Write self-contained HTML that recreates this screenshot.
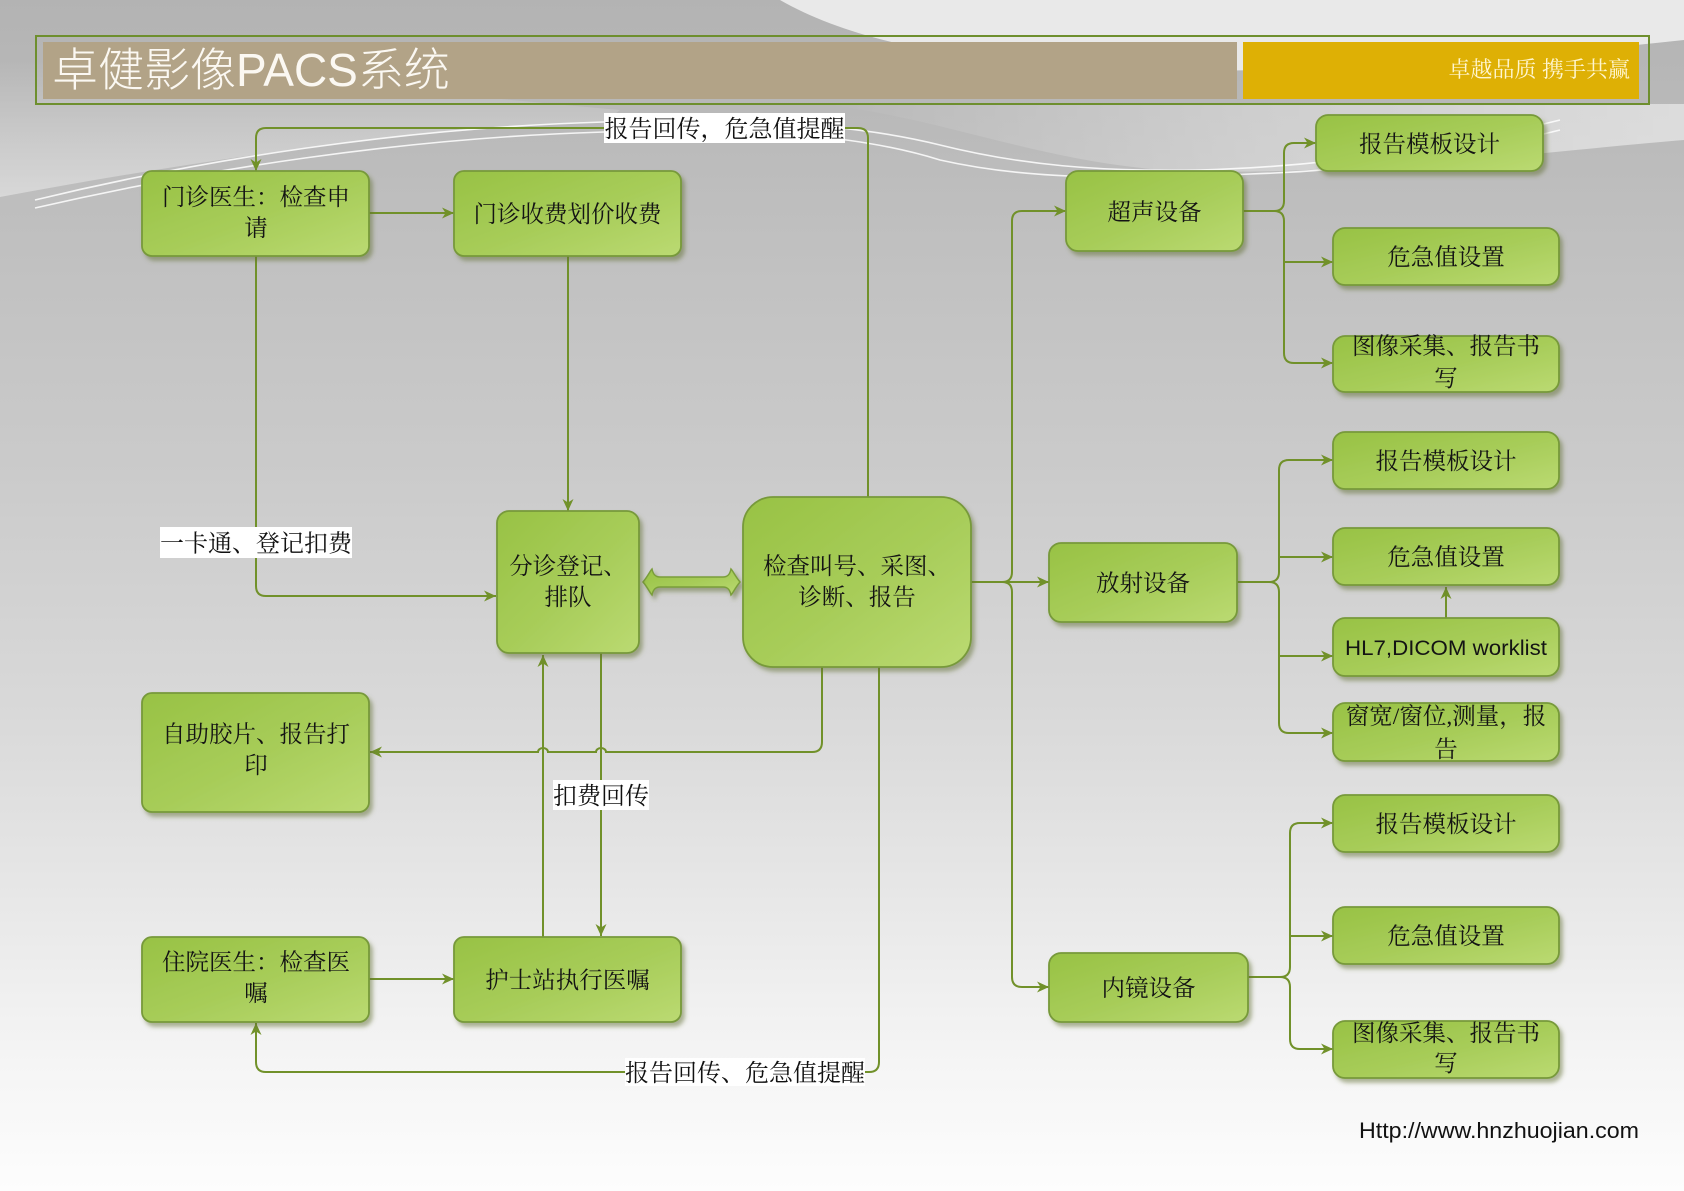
<!DOCTYPE html>
<html>
<head>
<meta charset="utf-8">
<style>
  html,body{margin:0;padding:0;width:1684px;height:1191px;overflow:hidden;background:#d0d0d0;}
  svg{display:block;}
  .t{font-family:"Liberation Serif","Noto Serif CJK SC","Noto Serif CJK JP","Noto Sans CJK SC",serif;font-size:23.5px;fill:#141414;text-anchor:middle;}
  .lb{font-family:"Liberation Serif","Noto Serif CJK SC","Noto Serif CJK JP","Noto Sans CJK SC",serif;font-size:24px;fill:#111;text-anchor:middle;}
  .c{fill:none;stroke:#71912a;stroke-width:2;}
  .bx{fill:url(#gb);stroke:#77993a;stroke-width:1.8;filter:url(#sh);}
</style>
</head>
<body>
<svg width="1684" height="1191" viewBox="0 0 1684 1191" xmlns="http://www.w3.org/2000/svg">
  <defs>
    <linearGradient id="bg" x1="0" y1="0" x2="0" y2="1">
      <stop offset="0" stop-color="#b3b3b3"/>
      <stop offset="0.17" stop-color="#bebebe"/>
      <stop offset="0.4" stop-color="#cbcbcb"/>
      <stop offset="0.6" stop-color="#d9d9d9"/>
      <stop offset="0.75" stop-color="#e7e7e7"/>
      <stop offset="0.88" stop-color="#f4f4f4"/>
      <stop offset="1" stop-color="#fdfdfd"/>
    </linearGradient>
    <linearGradient id="gb" x1="0" y1="0" x2="1" y2="1">
      <stop offset="0" stop-color="#98c244"/>
      <stop offset="0.55" stop-color="#a8cd5a"/>
      <stop offset="1" stop-color="#bbda72"/>
    </linearGradient>
    <linearGradient id="wedge" x1="0" y1="0" x2="0" y2="1">
      <stop offset="0" stop-color="#ffffff" stop-opacity="0"/>
      <stop offset="1" stop-color="#ffffff" stop-opacity="0.4"/>
    </linearGradient>
    <linearGradient id="rband" x1="0" y1="0" x2="1" y2="0">
      <stop offset="0" stop-color="#ffffff" stop-opacity="0"/>
      <stop offset="0.5" stop-color="#ffffff" stop-opacity="0.3"/>
      <stop offset="1" stop-color="#ffffff" stop-opacity="0.5"/>
    </linearGradient>
    <filter id="sh" x="-10%" y="-10%" width="130%" height="140%">
      <feDropShadow dx="3" dy="4" stdDeviation="2" flood-color="#5e6e30" flood-opacity="0.5"/>
    </filter>
    <marker id="ah" viewBox="0 0 12 12" refX="12" refY="6" markerWidth="12" markerHeight="12" markerUnits="userSpaceOnUse" orient="auto">
      <path d="M0,0.5 L12,6 L0,11.5 L3.5,6 z" fill="#71912a"/>
    </marker>
  </defs>

  <!-- background -->
  <rect x="0" y="0" width="1684" height="1191" fill="url(#bg)"/>
  <path d="M0,60 C200,70 400,90 620,110 L604,122 C400,130 200,160 0,197 Z" fill="url(#wedge)"/>
  <path d="M780,0 C850,40 950,60 1100,70 C1300,75 1500,60 1684,40 L1684,0 Z" fill="#f2f2f2" opacity="0.85"/>
  <path d="M820,104 C950,118 1050,168 1200,172 C1400,172 1560,150 1684,140 L1684,104 Z" fill="url(#rband)"/>
  <path d="M35,200 C200,160 400,128 604,122 C760,118 860,125 940,145 C1020,165 1100,172 1200,170 C1350,166 1480,140 1560,120" fill="none" stroke="#ffffff" stroke-width="1.6" opacity="0.85"/>
  <path d="M35,208 C200,170 400,138 604,132 C760,128 860,135 940,160 C1020,178 1100,180 1250,174 C1380,170 1480,150 1560,130" fill="none" stroke="#ffffff" stroke-width="1.6" opacity="0.85"/>

  <!-- header -->
  <rect x="36" y="36" width="1613" height="68" fill="none" stroke="#6e8f2e" stroke-width="2"/>
  <rect x="43" y="42" width="1194" height="57" fill="#b2a387"/>
  <rect x="1243" y="42" width="396" height="57" fill="#deb005"/>
  <text x="52" y="86" style="font-family:'Liberation Sans','Noto Sans CJK SC Light','Noto Sans CJK SC',sans-serif;font-size:46px;font-weight:300;fill:#fbf8f2;">卓健影像PACS系统</text>
  <text x="1630" y="77" style="font-family:'Liberation Serif','Noto Serif CJK SC','Noto Sans CJK SC',serif;font-size:22px;fill:#fff6cf;text-anchor:end;">卓越品质 携手共赢</text>

  <!-- connectors -->
  <path class="c" d="M868,497 V138 Q868,128 858,128 H266 Q256,128 256,138 V171" marker-end="url(#ah)"/>
  <path class="c" d="M369,213 H454" marker-end="url(#ah)"/>
  <path class="c" d="M256,256 V586 Q256,596 266,596 H496" marker-end="url(#ah)"/>
  <path class="c" d="M568,256 V511" marker-end="url(#ah)"/>
  <path class="c" d="M822,667 V742 Q822,752 812,752 H606 A5,4 0 0 0 596,752 H548 A5,4 0 0 0 538,752 H370" marker-end="url(#ah)"/>
  <path class="c" d="M543,937 V655" marker-end="url(#ah)"/>
  <path class="c" d="M601,653 V936" marker-end="url(#ah)"/>
  <path class="c" d="M369,979 H454" marker-end="url(#ah)"/>
  <path class="c" d="M879,667 V1062 Q879,1072 869,1072 H266 Q256,1072 256,1062 V1023" marker-end="url(#ah)"/>

  <!-- trunk -->
  <path class="c" d="M971,582 H1002 Q1012,582 1012,572 V221 Q1012,211 1022,211 H1066" marker-end="url(#ah)"/>
  <path class="c" d="M1002,582 Q1012,582 1012,592 V977 Q1012,987 1022,987 H1049" marker-end="url(#ah)"/>
  <path class="c" d="M1002,582 H1049" marker-end="url(#ah)"/>

  <!-- ultrasound branches -->
  <path class="c" d="M1243,211 H1274 Q1284,211 1284,201 V153 Q1284,143 1294,143 H1316" marker-end="url(#ah)"/>
  <path class="c" d="M1274,211 Q1284,211 1284,221 V353 Q1284,363 1294,363 H1333" marker-end="url(#ah)"/>
  <path class="c" d="M1284,262 H1333" marker-end="url(#ah)"/>

  <!-- radiology branches -->
  <path class="c" d="M1237,582 H1269 Q1279,582 1279,572 V470 Q1279,460 1289,460 H1333" marker-end="url(#ah)"/>
  <path class="c" d="M1269,582 Q1279,582 1279,592 V723 Q1279,733 1289,733 H1333" marker-end="url(#ah)"/>
  <path class="c" d="M1279,557 H1333" marker-end="url(#ah)"/>
  <path class="c" d="M1279,656 H1333" marker-end="url(#ah)"/>
  <path class="c" d="M1446,618 V587" marker-end="url(#ah)"/>

  <!-- endoscopy branches -->
  <path class="c" d="M1248,977 H1280 Q1290,977 1290,967 V833 Q1290,823 1300,823 H1333" marker-end="url(#ah)"/>
  <path class="c" d="M1280,977 Q1290,977 1290,987 V1039 Q1290,1049 1300,1049 H1333" marker-end="url(#ah)"/>
  <path class="c" d="M1290,936 H1333" marker-end="url(#ah)"/>

  <!-- labels -->
  <rect x="604" y="113" width="241" height="30" fill="#ffffff"/>
  <text class="lb" x="724.5" y="137">报告回传，危急值提醒</text>
  <rect x="160" y="527" width="192" height="31" fill="#ffffff"/>
  <text class="lb" x="256" y="551.5">一卡通、登记扣费</text>
  <rect x="553" y="780" width="96" height="30" fill="#ffffff"/>
  <text class="lb" x="601" y="804">扣费回传</text>
  <rect x="625" y="1058" width="240" height="28" fill="#ffffff"/>
  <text class="lb" x="745" y="1081">报告回传、危急值提醒</text>

  <!-- double arrow -->
  <path d="M643,582 C648,576 650,571 652,569 C653,574 655,577 660,577 H723 C728,577 730,574 731,569 C733,571 735,576 740,582 C735,588 733,593 731,595 C730,590 728,587 723,587 H660 C655,587 653,590 652,595 C650,593 648,588 643,582 Z" fill="url(#gb)" stroke="#7a9d3a" stroke-width="1.5" filter="url(#sh)"/>

  <!-- left boxes -->
  <rect class="bx" x="142" y="171" width="227" height="85" rx="10"/>
  <text class="t" x="256" y="205">门诊医生：检查申</text>
  <text class="t" x="256" y="236">请</text>

  <rect class="bx" x="454" y="171" width="227" height="85" rx="10"/>
  <text class="t" x="567.5" y="222">门诊收费划价收费</text>

  <rect class="bx" x="497" y="511" width="142" height="142" rx="12"/>
  <text class="t" x="568" y="574">分诊登记、</text>
  <text class="t" x="568" y="605">排队</text>

  <rect class="bx" x="743" y="497" width="228" height="170" rx="30"/>
  <text class="t" x="857" y="574">检查叫号、采图、</text>
  <text class="t" x="857" y="605">诊断、报告</text>

  <rect class="bx" x="142" y="693" width="227" height="119" rx="10"/>
  <text class="t" x="256" y="742">自助胶片、报告打</text>
  <text class="t" x="256" y="773">印</text>

  <rect class="bx" x="142" y="937" width="227" height="85" rx="10"/>
  <text class="t" x="256" y="970">住院医生：检查医</text>
  <text class="t" x="256" y="1001">嘱</text>

  <rect class="bx" x="454" y="937" width="227" height="85" rx="10"/>
  <text class="t" x="567.5" y="988">护士站执行医嘱</text>

  <!-- device boxes -->
  <rect class="bx" x="1066" y="171" width="177" height="80" rx="12"/>
  <text class="t" x="1154.5" y="220">超声设备</text>

  <rect class="bx" x="1049" y="543" width="188" height="79" rx="12"/>
  <text class="t" x="1143" y="591">放射设备</text>

  <rect class="bx" x="1049" y="953" width="199" height="69" rx="12"/>
  <text class="t" x="1148.5" y="996">内镜设备</text>

  <!-- right boxes -->
  <rect class="bx" x="1316" y="115" width="227" height="56" rx="12"/>
  <text class="t" x="1429.5" y="152">报告模板设计</text>

  <rect class="bx" x="1333" y="228" width="226" height="57" rx="12"/>
  <text class="t" x="1446" y="265">危急值设置</text>

  <rect class="bx" x="1333" y="336" width="226" height="56" rx="12"/>
  <text class="t" x="1446" y="354">图像采集、报告书</text>
  <text class="t" x="1446" y="386">写</text>

  <rect class="bx" x="1333" y="432" width="226" height="57" rx="12"/>
  <text class="t" x="1446" y="469">报告模板设计</text>

  <rect class="bx" x="1333" y="528" width="226" height="57" rx="12"/>
  <text class="t" x="1446" y="565">危急值设置</text>

  <rect class="bx" x="1333" y="618" width="226" height="58" rx="12"/>
  <text x="1446" y="655" textLength="202" lengthAdjust="spacingAndGlyphs" style="font-family:'Liberation Sans','DejaVu Sans',sans-serif;font-size:21px;fill:#141414;text-anchor:middle;">HL7,DICOM worklist</text>

  <rect class="bx" x="1333" y="703" width="226" height="58" rx="12"/>
  <text class="t" x="1446" y="724">窗宽/窗位,测量，报</text>
  <text class="t" x="1446" y="757">告</text>

  <rect class="bx" x="1333" y="795" width="226" height="57" rx="12"/>
  <text class="t" x="1446" y="832">报告模板设计</text>

  <rect class="bx" x="1333" y="907" width="226" height="57" rx="12"/>
  <text class="t" x="1446" y="944">危急值设置</text>

  <rect class="bx" x="1333" y="1021" width="226" height="57" rx="12"/>
  <text class="t" x="1446" y="1041">图像采集、报告书</text>
  <text class="t" x="1446" y="1071">写</text>

  <!-- url -->
  <text x="1359" y="1138" textLength="280" lengthAdjust="spacingAndGlyphs" style="font-family:'Liberation Sans','DejaVu Sans',sans-serif;font-size:22px;fill:#111;">Http://www.hnzhuojian.com</text>
</svg>
</body>
</html>
